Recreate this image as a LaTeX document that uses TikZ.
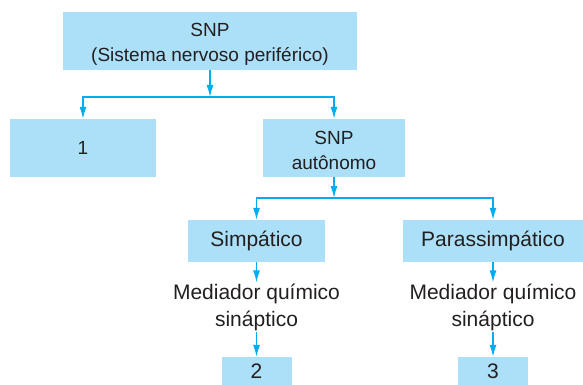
\documentclass[tikz,border=0pt]{standalone}
\usepackage{fontspec}
\setmainfont{Liberation Sans}
\usepackage{xcolor}
\usetikzlibrary{arrows.meta}
\definecolor{boxblue}{RGB}{171,224,248}
\definecolor{arrblue}{RGB}{0,174,239}
\definecolor{txtgray}{RGB}{35,31,32}

\begin{document}
\begin{tikzpicture}[x=1pt, y=-1pt,
  every node/.style={text=txtgray, font=\fontsize{19}{25}\selectfont, align=center},
  small/.style={font=\fontsize{21}{27}\selectfont},
  box/.style={fill=boxblue, inner sep=0pt},
  twoline/.style={text height=48pt, text depth=6pt},
  arr/.style={-{Latex[length=12pt, width=7pt]}, draw=arrblue, line width=1.3pt}]
\useasboundingbox (0,0) rectangle (583,385);

\node[box, twoline, minimum width=294pt, minimum height=58pt] (snp) at (210,41) {SNP\\(Sistema nervoso periférico)};
\node[box, minimum width=146pt, minimum height=58pt] (um) at (83,148) {1};
\node[box, twoline, minimum width=142pt, minimum height=58pt] (aut) at (334,148) {SNP\\autônomo};

\node[box, small, minimum width=137pt, minimum height=42pt] (simp) at (256.5,241) {Simpático};
\node[box, small, minimum width=180pt, minimum height=42pt] (para) at (493,241) {Parassimpático};

\node[small, inner sep=1pt] (med1) at (256.5,307) {Mediador químico\\sináptico};
\node[small, inner sep=1pt] (med2) at (493,307) {Mediador químico\\sináptico};

\node[box, small, minimum width=70pt, minimum height=28pt] (dois) at (256.5,371) {2};
\node[box, small, minimum width=70pt, minimum height=28pt] (tres) at (493,371) {3};

\coordinate (j1) at (210,97);
\coordinate (j2) at (334,198);

\draw[arr] (snp) -- (j1);
\draw[arr] (j1) -| (um);
\draw[arr] (j1) -| (aut);

\draw[arr] (aut) -- (j2);
\draw[arr] (j2) -| (simp);
\draw[arr] (j2) -| (para);

\draw[arr] (simp) -- (med1);
\draw[arr] (para) -- (med2);
\draw[arr] (med1) -- (dois);
\draw[arr] (med2) -- (tres);

\end{tikzpicture}
\end{document}
